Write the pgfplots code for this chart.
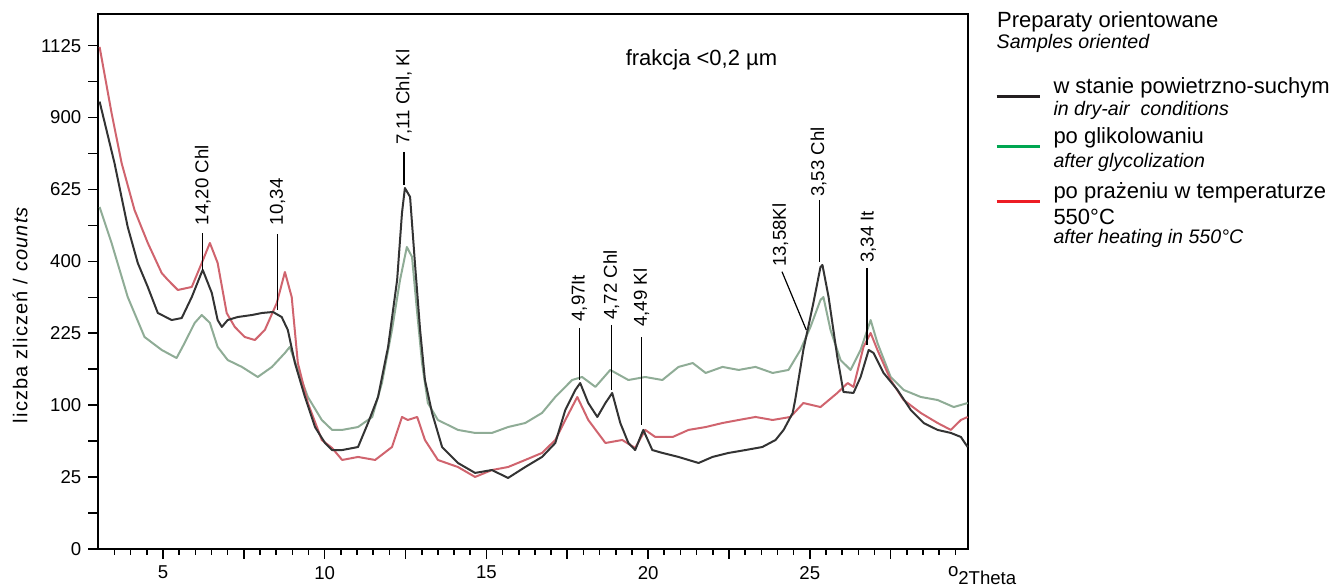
\documentclass[border=0pt]{standalone}
\usepackage{fontspec}
\setmainfont{Liberation Sans}
\usepackage{pgfplots}
\pgfplotsset{compat=1.18}
\definecolor{cblack}{HTML}{333333}
\definecolor{cgreen}{HTML}{8FAC96}
\definecolor{cred}{HTML}{D0646E}
\definecolor{lblack}{HTML}{231F20}
\definecolor{lgreen}{HTML}{00A651}
\definecolor{lred}{HTML}{ED1C24}
\newcommand\tickfont{\fontsize{9.3}{10}\selectfont}
\newcommand\peakfont{\fontsize{9.3}{10}\selectfont}
\newcommand\legfont{\fontsize{11}{12}\selectfont}
\newcommand\legitfont{\fontsize{9.8}{11}\selectfont\itshape}
\begin{document}
\begin{tikzpicture}
\path[use as bounding box] (-49.15pt,-19pt) rectangle (620.35pt,274.5pt);
\begin{axis}[
  scale only axis, width=435pt, height=267.5pt,
  xmin=3, xmax=29.9, ymin=0, ymax=37.2,
  clip=false,
  axis line style={line width=1pt, black},
  tick style={black, line width=0.8pt},
  tick align=outside,
  xtick pos=bottom, ytick pos=left,
  xtick={5,7.5,...,27.5}, xticklabels={5,,10,,15,,20,,25,},
  minor xtick={3.5,4,...,29.5},
  ytick={0,2.5,...,35}, yticklabels={0,,25,,100,,225,,400,,625,,900,,1125},
  major tick length=5pt, minor tick length=3pt,
  /pgf/number format/assume math mode=true,
  ticklabel style={font=\tickfont},
  every axis plot/.append style={line width=1pt, line join=round},
]
\addplot[cgreen] coordinates {
(3.04,23.78) (3.41,21.28) (3.91,17.52) (4.43,14.74) (4.96,13.84) (5.42,13.28)
(5.67,14.33) (5.98,15.72) (6.20,16.27) (6.45,15.72) (6.69,14.05) (7.00,13.14)
(7.44,12.66) (7.93,11.96) (8.37,12.66) (8.77,13.63) (8.92,14.05) (9.17,12.45)
(9.48,10.57) (9.91,8.97) (10.23,8.28) (10.54,8.28) (11.03,8.48) (11.47,9.18)
(11.77,11.54) (12.08,15.23) (12.33,18.71) (12.54,21.00) (12.70,20.31) (12.86,16.41)
(13.01,12.93) (13.19,10.15) (13.50,8.97) (14.12,8.28) (14.65,8.07) (15.17,8.07)
(15.67,8.48) (16.20,8.76) (16.72,9.46) (17.13,10.57) (17.65,11.75) (17.96,11.96)
(18.37,11.27) (18.83,12.45) (19.39,11.75) (19.91,11.96) (20.44,11.75) (20.94,12.66)
(21.38,12.93) (21.78,12.24) (22.30,12.66) (22.80,12.45) (23.32,12.66) (23.85,12.24)
(24.34,12.45) (24.71,13.84) (25.02,15.44) (25.33,17.32) (25.42,17.52) (25.64,15.23)
(25.95,13.14) (26.26,12.45) (26.57,13.84) (26.88,15.92) (27.09,14.33) (27.50,11.96)
(27.90,11.06) (28.43,10.57) (28.95,10.36) (29.45,9.87) (29.88,10.15)
};
\addplot[cred] coordinates {
(3.04,34.91) (3.41,30.32) (3.72,26.84) (4.12,23.57) (4.53,21.28) (4.96,19.19)
(5.15,18.71) (5.46,18.01) (5.89,18.22) (6.20,19.89) (6.45,21.28) (6.69,19.89)
(6.97,16.41) (7.22,15.44) (7.53,14.74) (7.84,14.53) (8.15,15.23) (8.52,17.11)
(8.77,19.26) (8.98,17.52) (9.17,12.93) (9.48,10.15) (9.91,7.58) (10.23,7.02)
(10.54,6.19) (11.03,6.40) (11.56,6.19) (12.08,7.09) (12.39,9.18) (12.57,8.97)
(12.86,9.18) (13.10,7.58) (13.50,6.19) (14.12,5.70) (14.65,5.01) (15.17,5.49)
(15.67,5.70) (16.20,6.19) (16.72,6.68) (17.13,7.58) (17.44,8.97) (17.81,10.57)
(18.15,8.97) (18.68,7.37) (19.20,7.58) (19.60,7.02) (19.91,8.28) (20.22,7.79)
(20.76,7.79) (21.25,8.28) (21.78,8.48) (22.30,8.76) (22.80,8.97) (23.32,9.18)
(23.85,8.97) (24.40,9.18) (24.80,10.15) (25.33,9.87) (25.85,10.85) (26.17,11.54)
(26.35,11.27) (26.66,14.05) (26.88,15.02) (27.09,13.84) (27.50,11.75) (27.90,10.36)
(28.43,9.46) (28.95,8.76) (29.36,8.28) (29.67,8.97) (29.88,9.18)
};
\addplot[cblack] coordinates {
(3.04,31.11) (3.50,26.84) (3.91,22.39) (4.22,19.89) (4.53,18.22) (4.84,16.41)
(5.27,15.92) (5.58,16.06) (5.89,17.52) (6.20,19.26) (6.23,19.40) (6.51,17.80)
(6.69,15.92) (6.82,15.44) (7.00,15.92) (7.31,16.13) (7.75,16.27) (8.06,16.41)
(8.40,16.48) (8.67,16.13) (8.86,15.23) (9.08,12.93) (9.39,10.57) (9.70,8.48)
(10.01,7.37) (10.23,6.88) (10.54,6.88) (11.03,7.09) (11.34,8.76) (11.65,10.57)
(11.96,14.05) (12.24,18.71) (12.39,23.37) (12.48,25.10) (12.64,24.48) (12.79,19.89)
(12.95,15.23) (13.10,11.75) (13.32,9.46) (13.63,7.09) (14.12,5.98) (14.65,5.29)
(15.17,5.49) (15.67,4.94) (16.20,5.70) (16.72,6.40) (17.13,7.37) (17.44,9.67)
(17.75,11.06) (17.90,11.54) (18.15,10.15) (18.43,9.18) (18.68,10.15) (18.89,10.85)
(19.14,8.76) (19.39,7.37) (19.60,6.88) (19.85,8.28) (20.13,6.88) (20.44,6.68)
(20.94,6.40) (21.25,6.19) (21.56,5.98) (21.99,6.40) (22.49,6.68) (23.01,6.88)
(23.53,7.09) (23.94,7.58) (24.19,8.28) (24.47,9.46) (24.55,10.40) (24.80,13.84)
(25.11,17.11) (25.33,19.61) (25.39,19.75) (25.58,17.52) (25.85,13.35) (26.04,10.92)
(26.35,10.85) (26.57,11.96) (26.82,13.84) (26.97,13.63) (27.28,12.24) (27.71,11.06)
(28.12,9.67) (28.52,8.76) (28.95,8.28) (29.36,8.07) (29.67,7.79) (29.88,7.09)
};
% peak annotations
\begin{scope}[line width=0.6pt, black]
\draw (axis cs:6.22,21.97) -- (axis cs:6.22,19.40);
\draw (axis cs:8.54,21.90) -- (axis cs:8.54,16.62);
\draw (axis cs:12.45,27.61) -- (axis cs:12.45,25.31);
\draw (axis cs:17.87,15.37) -- (axis cs:17.87,11.75);
\draw (axis cs:18.86,15.58) -- (axis cs:18.86,11.06);
\draw (axis cs:19.79,14.74) -- (axis cs:19.79,8.62);
\draw (axis cs:24.14,19.28) -- (axis cs:24.89,15.23);
\draw (axis cs:25.30,24.27) -- (axis cs:25.30,19.96);
\draw (axis cs:26.77,19.54) -- (axis cs:26.77,14.19);
\end{scope}
\begin{scope}[every node/.style={rotate=90, anchor=west, inner sep=0pt, font=\peakfont}]
\node at (axis cs:6.23,22.50) {14,20 Chl};
\node at (axis cs:8.54,22.50) {10,34};
\node at (axis cs:12.45,28.09) {7,11 Chl, Kl};
\node at (axis cs:17.87,15.79) {4,97It};
\node at (axis cs:18.86,15.92) {4,72 Chl};
\node at (axis cs:19.79,15.44) {4,49 Kl};
\node at (axis cs:24.09,19.60) {13,58Kl};
\node at (axis cs:25.27,24.48) {3,53 Chl};
\node at (axis cs:26.81,19.89) {3,34 It};
\end{scope}
\node[font=\fontsize{11}{12}\selectfont, inner sep=0pt] at (axis cs:21.65,34.0) {frakcja <0,2 µm};
\node[font=\tickfont, anchor=base west, inner sep=0pt] at (axis cs:29.26,-2.5) {\raisebox{0.9ex}{o}2Theta};
\end{axis}
% y label
\node[rotate=90, inner sep=0pt, font=\fontsize{10}{11}\selectfont\addfontfeatures{LetterSpace=6}] at (-39.15pt,117.25pt) {liczba zliczeń / \textit{counts}};
% legend
\node[anchor=west, inner sep=0pt, font=\legfont] at (449.2pt,263.7pt) {Preparaty orientowane};
\node[anchor=west, inner sep=0pt, font=\legitfont] at (449.0pt,253.0pt) {Samples oriented};
\draw[lblack, line width=1.2pt] (449.2pt,226.2pt) -- (470.9pt,226.2pt);
\node[anchor=west, inner sep=0pt, font=\legfont] at (477.4pt,230.5pt) {w stanie powietrzno-suchym};
\node[anchor=west, inner sep=0pt, font=\legitfont] at (477.4pt,219.5pt) {in dry-air\ \ conditions};
\draw[lgreen, line width=1.2pt] (449.2pt,201.2pt) -- (470.9pt,201.2pt);
\node[anchor=west, inner sep=0pt, font=\legfont] at (477.4pt,205.5pt) {po glikolowaniu};
\node[anchor=west, inner sep=0pt, font=\legitfont] at (477.4pt,193.5pt) {after glycolization};
\draw[lred, line width=1.2pt] (449.2pt,173.7pt) -- (470.9pt,173.7pt);
\node[anchor=west, inner sep=0pt, font=\legfont] at (477.4pt,178.0pt) {po prażeniu w temperaturze};
\node[anchor=west, inner sep=0pt, font=\legfont] at (477.4pt,166.0pt) {550°C};
\node[anchor=west, inner sep=0pt, font=\legitfont] at (477.4pt,155.5pt) {after heating in 550°C};
\end{tikzpicture}
\end{document}
